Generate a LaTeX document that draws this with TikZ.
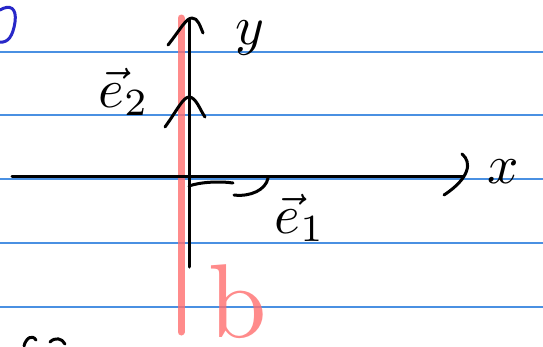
\documentclass[tikz,border=0pt]{standalone}
\definecolor{ruleblue}{RGB}{74,144,226}
\definecolor{penred}{RGB}{255,110,110}
\definecolor{penblue}{RGB}{40,40,200}
\tikzset{
  rule/.style={ruleblue, line width=1.2pt},
  ink/.style={black, line width=3pt, line cap=round, line join=round},
  marker/.style={penred, line width=7pt, line cap=round, opacity=0.8},
  inklabel/.style={inner sep=0pt, scale=5.5}
}
\begin{document}
\begin{tikzpicture}[x=1pt,y=-1pt]
\useasboundingbox (0,0) rectangle (543,346);
% ruled paper
\foreach \yy in {52,115,179,243,307}
  \draw[rule] (0,\yy) -- (543,\yy);

% red margin line
\draw[marker] (181,18) -- (181,332);

% axes
\coordinate (O) at (189,176);
\coordinate (xL) at (12,176);
\coordinate (xR) at (463,176);
\coordinate (yB) at (189,267);
\coordinate (yT) at (189,20);
\draw[ink] (xL) -- (xR);
\draw[ink] (yB) -- (yT);
\draw[ink] (462,154) .. controls (472,162) and (470,178) .. (444,195);
\draw[ink] (168,45) .. controls (180,30) and (186,18) .. (192,18) .. controls (198,18) and (200,26) .. (203,33);

% basis vectors
\draw[ink] (189,186) .. controls (200,182) and (220,181) .. (233,183);
\draw[ink] (234,195) .. controls (250,197) and (266,190) .. (268,178);
\draw[ink] (165,127) .. controls (176,112) and (183,97) .. (189,97) .. controls (196,97) and (200,110) .. (205,117);

% labels
\node[inklabel] (ylab) at (250,38) {$y$};
\node[inklabel] (xlab) at (503,172) {$x$};
\node[inklabel] (e2lab) at (124,92) {$\vec{e}_2$};
\node[inklabel] (e1lab) at (300,218) {$\vec{e}_1$};
\node[inner sep=0pt, text=penred, opacity=0.8, scale=10.5, anchor=base] (blab) at (238,337) {b};

% cut-off marks at the edges
\draw[penblue, line width=3pt, line cap=round] (0,10) .. controls (10,4) and (17,8) .. (15,22) .. controls (13,36) and (8,43) .. (0,42);
\draw[ink] (24,346) .. controls (26,338) and (32,334) .. (36,340);
\draw[ink] (50,342) .. controls (55,337) and (62,338) .. (65,344);
\end{tikzpicture}
\end{document}
